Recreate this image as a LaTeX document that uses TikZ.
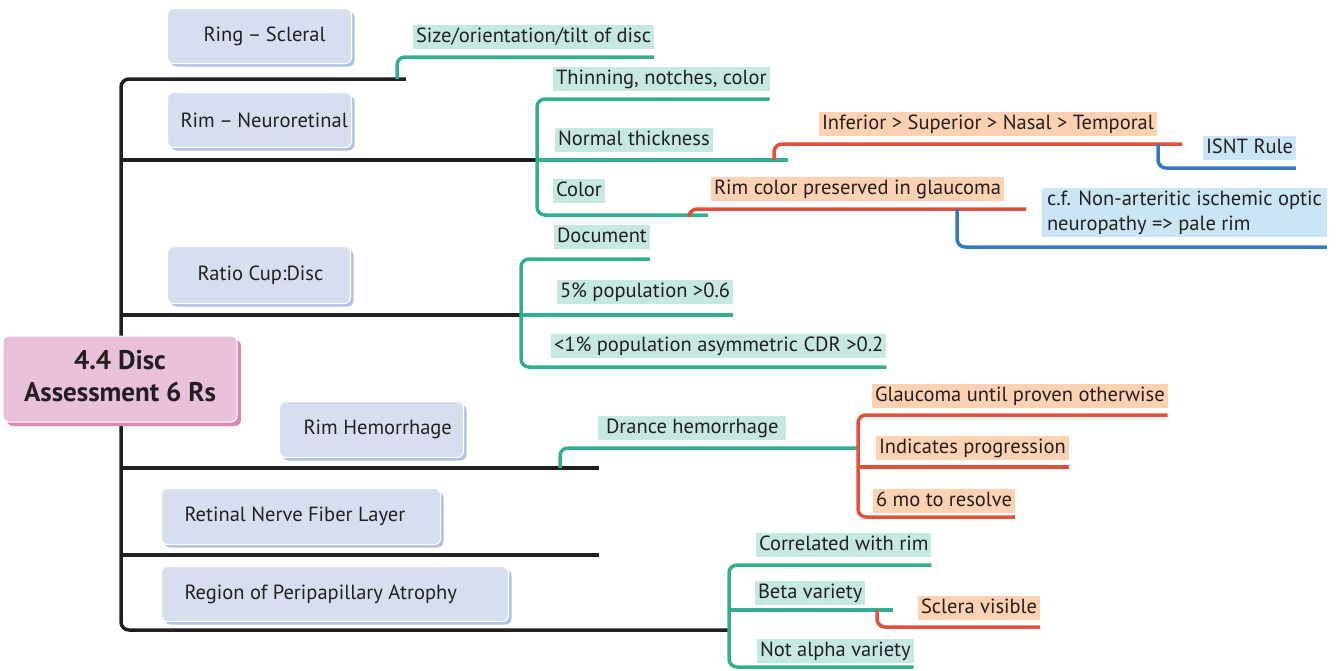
\documentclass[tikz,border=0pt]{standalone}
\usepackage{fontspec}
\setmainfont{PT Sans}
\usepackage{tikz}
\usetikzlibrary{positioning,calc,shadows,backgrounds}
\definecolor{ink}{HTML}{231F20}
\definecolor{tealcol}{HTML}{32AF91}
\definecolor{tealbg}{HTML}{C6E8E3}
\definecolor{redcol}{HTML}{E1503B}
\definecolor{orangebg}{HTML}{FDD1B1}
\definecolor{bluecol}{HTML}{3479C0}
\definecolor{bluebg}{HTML}{CAE6F4}
\definecolor{topicfill}{HTML}{D6DFF0}
\definecolor{topicshade}{HTML}{B0C1E3}
\definecolor{centerfill}{HTML}{E8C0DA}
\definecolor{centershade}{HTML}{D886B6}
\tikzset{
    topic/.style 2 args={draw=white,line width=1pt,fill=topicfill,rounded corners=6pt,
        text=ink,anchor=north west,minimum height=55pt,inner xsep=0pt,inner ysep=0pt,
        text width=#1,align=flush left,execute at begin node={\hspace*{#2}},
        general shadow={shadow xshift=3pt,shadow yshift=-3pt,fill=topicshade,draw=none}},
    central/.style={draw=white,line width=1pt,fill=centerfill,rounded corners=6pt,
        text=ink,font=\bfseries\fontsize{27pt}{32pt}\selectfont,align=center,
        minimum width=234pt,minimum height=86pt,inner sep=0pt,
        general shadow={shadow xshift=4pt,shadow yshift=-4pt,fill=centershade,draw=none}},
    leaf/.style={fill=#1,text=ink,anchor=south west,inner xsep=3pt,inner ysep=1.75pt,
        text height=15.5pt,text depth=5pt,outer xsep=0pt,outer ysep=8pt},
    trunk/.style={draw=ink,line width=3.5pt,rounded corners=8pt},
    tealline/.style={draw=tealcol,line width=3.5pt,rounded corners=8pt},
    redline/.style={draw=redcol,line width=3.5pt,rounded corners=8pt},
    blueline/.style={draw=bluecol,line width=3.5pt,rounded corners=8pt}
}
\begin{document}
\begin{tikzpicture}[x=1pt,y=-1pt,font=\fontsize{20.5pt}{25pt}\selectfont]
    \useasboundingbox (0,0) rectangle (1341,670);

    \node[central,text depth=6pt] (disc) at (120,379) {4.4 Disc\\Assessment 6 Rs};

    \node[topic={184pt}{36pt}] (ring) at (167,8) {Ring\hspace{0.22em}–\hspace{0.22em}Scleral};
    \node[topic={184pt}{13pt}] (rimn) at (167,92) {Rim\hspace{0.22em}–\hspace{0.22em}Neuroretinal};
    \node[topic={183pt}{30pt},minimum height=57pt] (ratio) at (167,246) {Ratio Cup:Disc};
    \node[topic={184pt}{24pt},minimum height=56pt] (hem) at (279,401) {Rim Hemorrhage};
    \node[topic={279pt}{23pt},minimum height=56pt] (rnfl) at (161,488) {Retinal Nerve Fiber Layer};
    \node[topic={347pt}{23pt}] (rpa) at (161,566) {Region of Peripapillary Atrophy};

    \node[leaf=tealbg] (size) at (413,57) {Size/orientation/tilt of disc};
    \node[leaf=tealbg] (thin) at (553,99) {Thinning, notches, color};
    \node[leaf=tealbg] (normal) at (555,160) {Normal thickness};
    \node[leaf=tealbg,outer ysep=12pt] (color) at (553,215) {Color};
    \node[leaf=orangebg] (inferior) at (819,144) {Inferior > Superior > Nasal > Temporal};
    \node[leaf=bluebg] (isnt) at (1203,168) {ISNT Rule};
    \node[leaf=orangebg] (rimcolor) at (711,209) {Rim color preserved in glaucoma};
    \node[leaf=bluebg,align=flush left,outer ysep=10pt,inner xsep=5pt,text height=40.5pt]
        (cf) at (1042,247) {c.f. Non-arteritic ischemic optic\\neuropathy => pale rim};
    \node[leaf=tealbg,outer ysep=10pt] (document) at (554,259) {Document};
    \node[leaf=tealbg,outer ysep=11pt] (pop) at (557,315) {5\% population >0.6};
    \node[leaf=tealbg,outer ysep=9pt] (cdr) at (551,367) {<1\% population asymmetric CDR >0.2};
    \node[leaf=tealbg,inner xsep=8pt] (drance) at (598,448) {Drance hemorrhage};
    \node[leaf=orangebg,outer ysep=7pt] (glaucoma) at (872,415) {Glaucoma until proven otherwise};
    \node[leaf=orangebg,outer ysep=7pt] (progression) at (876,467) {Indicates progression};
    \node[leaf=orangebg,outer ysep=4pt] (resolve) at (873,517) {6 mo to resolve};
    \node[leaf=tealbg] (correlated) at (756,565) {Correlated with rim};
    \node[leaf=tealbg,outer ysep=5pt] (beta) at (755,610) {Beta variety};
    \node[leaf=tealbg,outer ysep=4pt] (notalpha) at (757,667) {Not alpha variety};
    \node[leaf=orangebg,outer ysep=7pt] (sclera) at (918,627) {Sclera visible};

    \coordinate (trunktop) at (121,79);
    \coordinate (trunkbot) at (121,630);
    \coordinate (ringend) at (406,79);
    \coordinate (ringfork) at (397,79);
    \coordinate (rimfork) at (537,160);
    \coordinate (normfork) at (774,160);
    \coordinate (normend) at (788,160);
    \coordinate (colorfork) at (689,215);
    \coordinate (colorend) at (708,215);
    \coordinate (infend) at (1182,144);
    \coordinate (isntfork) at (1158,144);
    \coordinate (rcend) at (1026,209);
    \coordinate (cffork) at (957,209);
    \coordinate (ratiofork) at (521,315);
    \coordinate (hemend) at (599,468);
    \coordinate (hemfork) at (560,468);
    \coordinate (hembrk) at (858,448);
    \coordinate (rnflend) at (599,555);
    \coordinate (rpafork) at (729,630);
    \coordinate (betafork) at (877,610);
    \coordinate (betaend) at (893,610);

    \begin{pgfonlayer}{background}
        \draw[trunk] (ringend) -- (trunktop) -- (trunkbot) -- (rpafork);
        \draw[trunk] (trunktop |- rimfork) -- (rimfork);
        \draw[trunk] (trunktop |- ratiofork) -- (ratiofork);
        \draw[trunk] (trunktop |- hemend) -- (hemend);
        \draw[trunk] (trunktop |- rnflend) -- (rnflend);

        \draw[tealline] (ringfork) |- (size.south east);
        \draw[tealline] (thin.south east) -| (rimfork) |- (colorend);
        \draw[tealline] (rimfork) -- (normend);
        \draw[tealline] (document.south east) -| (ratiofork) |- (cdr.south east);
        \draw[tealline] (ratiofork) -- (pop.south east);
        \draw[tealline] (hemfork) |- (hembrk);
        \draw[tealline] (correlated.south east) -| (rpafork) |- (notalpha.south east);
        \draw[tealline] (rpafork |- betaend) -- (betaend);

        \draw[redline] (normfork) |- (infend);
        \draw[redline] (colorfork) |- (rcend);
        \draw[redline] (glaucoma.south east) -| (hembrk) |- (resolve.south east);
        \draw[redline] (hembrk |- progression.south) -- (progression.south east);
        \draw[redline] (betafork) |- (sclera.south east);

        \draw[blueline] (isntfork) |- (isnt.south east);
        \draw[blueline] (cffork) |- (cf.south east);
    \end{pgfonlayer}
\end{tikzpicture}
\end{document}
